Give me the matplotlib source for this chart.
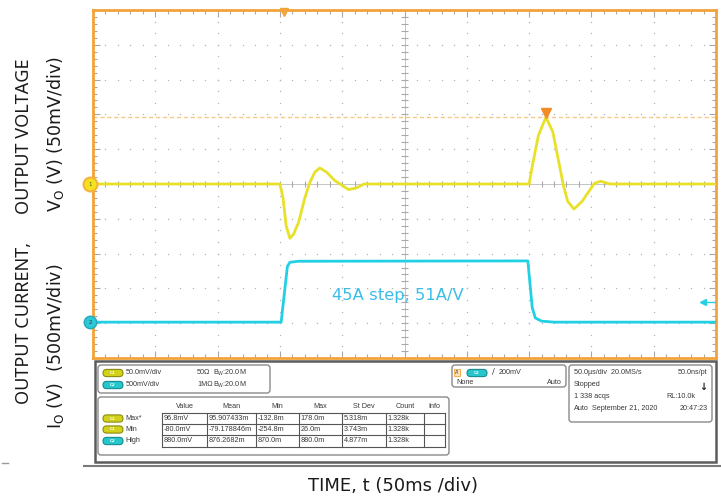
import numpy as np
import matplotlib
matplotlib.use('Agg')
from matplotlib import pyplot as plt
from matplotlib.patches import FancyBboxPatch, Rectangle

# scope settings
ch1_scale = 50.0      # mV/div
ch2_scale = 500.0     # mV/div
time_scale = 50.0     # us/div
n_xdiv = 10
n_ydiv = 10
ch1_gnd_div = 5.0     # ground marker positions (divisions from bottom)
ch2_gnd_div = 1.03

# CH1 output voltage (mV, relative to ground marker) vs time (us)
vout_t = [0.0, 150.0, 152.5, 155.0, 158.0, 161.0, 165.0, 170.0, 174.0, 178.0, 182.0,
          187.5, 194.0, 200.0, 205.0, 211.0, 217.5, 350.0, 352.5, 357.5, 363.5,
          369.0, 374.0, 377.5, 381.0, 386.0, 392.5, 399.0, 402.5, 407.5, 415.0, 500.0]
vout_mv = [0.0, 0.0, -20.0, -60.0, -78.0, -72.0, -55.0, -20.0, 2.0, 17.0, 23.0,
           17.0, 5.0, -2.0, -8.0, -6.0, 0.0, 0.0, 25.0, 70.0, 96.0,
           75.0, 30.0, -2.0, -25.0, -36.0, -25.0, -8.0, 1.0, 4.0, 0.0, 0.0]

# CH2 current probe output (mV) vs time (us)
iout_t = [0.0, 151.0, 153.5, 156.0, 158.0, 165.0, 349.0, 352.5, 355.0, 360.0, 370.0, 500.0]
iout_mv = [0.0, 0.0, 400.0, 800.0, 860.0, 875.0, 880.0, 210.0, 60.0, 15.0, 0.0, 0.0]

trig_t = 153.0
trig_level_mv = 290.0
cursor_mv = 96.8
peak_t = 363.5

# readout panel
ch_settings = [("C1", "50.0mV/div", "50\u03a9"), ("C2", "500mV/div", "1M\u03a9")]
meas_cols = ["Value", "Mean", "Min", "Max", "St Dev", "Count", "Info"]
meas_names = ["Max*", "Min", "High"]
meas_ch = ["C1", "C1", "C2"]
meas_rows = [
    ["96.8mV", "95.907433m", "-132.8m", "178.0m", "5.318m", "1.328k", ""],
    ["-80.0mV", "-79.178846m", "-254.8m", "26.0m", "3.743m", "1.328k", ""],
    ["880.0mV", "876.2682m", "870.0m", "880.0m", "4.877m", "1.328k", ""],
]

YEL = '#e9e02a'
CYAN = '#22d0e4'
ORANGE = '#f2a43a'
GRID = '#b4b4b4'

W, H = 721, 500
L, R, T, B = 93, 716, 10, 358

fig = plt.figure(figsize=(W / 100, H / 100), dpi=100)
fig.patch.set_facecolor('white')

# panel / label layer in pixel coordinates
pan = fig.add_axes([0, 0, 1, 1])
pan.set_xlim(0, W)
pan.set_ylim(H, 0)
pan.axis('off')

# graticule
ax = fig.add_axes([L / W, 1 - B / H, (R - L) / W, (B - T) / H])
ax.set_xlim(0, n_xdiv * time_scale)
ax.set_ylim(-ch1_gnd_div * ch1_scale, (n_ydiv - ch1_gnd_div) * ch1_scale)
ax.set_facecolor('white')
ax2 = ax.twinx()
ax2.set_ylim(-ch2_gnd_div * ch2_scale, (n_ydiv - ch2_gnd_div) * ch2_scale)
ax2.set_yticks([])
for s in ax2.spines.values():
    s.set_visible(False)

for s in ax.spines.values():
    s.set_color(ORANGE)
    s.set_linewidth(2)

y0, y1 = ax.get_ylim()
ax.set_xticks(np.arange(0, 501, time_scale))
ax.set_xticks(np.arange(0, 501, time_scale / 5), minor=True)
ax.set_yticks(np.arange(y0, y1 + 1, ch1_scale))
ax.set_yticks(np.arange(y0, y1 + 1, ch1_scale / 5), minor=True)
ax.set_xticklabels([])
ax.set_yticklabels([])
ax.tick_params(which='both', direction='in', color='#a8a8a8', width=0.8,
               left=True, right=True, top=True, bottom=True)
ax.tick_params(which='major', length=5)
ax.tick_params(which='minor', length=3)

# dotted grid
for k in range(1, n_xdiv):
    if k == n_xdiv // 2:
        continue
    ys = np.arange(y0, y1, ch1_scale / 3)
    ax.plot(np.full_like(ys, k * time_scale), ys, ls='none', marker='s', ms=0.9,
            color=GRID, mew=0)
for k in range(1, n_ydiv):
    if k == n_ydiv // 2:
        continue
    xs = np.arange(0, n_xdiv * time_scale, time_scale / 5)
    ax.plot(xs, np.full_like(xs, y0 + k * ch1_scale), ls='none', marker='s', ms=0.9,
            color=GRID, mew=0)

# centre cross with ticks
xc = n_xdiv / 2 * time_scale
yc = y0 + n_ydiv / 2 * ch1_scale
ax.axhline(yc, color='#c4c4c4', lw=0.7, zorder=1)
ax.axvline(xc, color='#c4c4c4', lw=0.7, zorder=1)
xs = np.arange(0, n_xdiv * time_scale + 1, time_scale / 5)
ax.vlines(xs, yc - 4.5, yc + 4.5, color='#a8a8a8', lw=0.8, zorder=1)
ys = np.arange(y0, y1 + 1, ch1_scale / 5)
ax.hlines(ys, xc - 2.5, xc + 2.5, color='#a8a8a8', lw=0.8, zorder=1)

# cursor at the measured peak
ax.axhline(cursor_mv, color='#f8c888', lw=1.0, ls=(0, (3, 2)), zorder=2)

# traces
ax2.plot(iout_t, iout_mv, color=CYAN, lw=2.0, zorder=5)
ax.plot(vout_t, vout_mv, color=YEL, lw=2.0, zorder=6)
ax.set_zorder(2)
ax2.set_zorder(3)

ax2.text(192, 390, "45A step, 51A/V", color='#3cbde8', fontsize=11.8,
         family='DejaVu Sans', ha='left', va='center')

# markers
ax.plot([trig_t], [y1 - 3.5], marker='v', color=ORANGE, ms=6, clip_on=False, zorder=7)
ax.plot([peak_t], [cursor_mv + 5], marker='v', color='#f28c28', ms=7, clip_on=False, zorder=7)
xm = -3 / (R - L) * n_xdiv * time_scale
ax.plot([xm], [0], marker='o', ms=10, mfc='#f5e21e', mec='#f6b23c', mew=1.5,
        clip_on=False, zorder=8)
ax.text(xm, 0, "1", fontsize=4, ha='center', va='center', color='#555', zorder=9, clip_on=False)
ax2.plot([xm], [0], marker='o', ms=9, mfc='#2cc8d8', mec='#24a8b8', mew=1,
         clip_on=False, zorder=8)
ax2.text(xm, 0, "2", fontsize=4, ha='center', va='center', color='#333', zorder=9, clip_on=False)
ax2.plot([489.6, 500], [trig_level_mv, trig_level_mv], color=CYAN, lw=1, zorder=6)
ax2.plot([489.6], [trig_level_mv], marker='<', color=CYAN, ms=4, zorder=7)

# ---- readout panel ----
TXT = '#3a3a3a'
FS = 5.2
FONT = 'Liberation Sans'


def pill(cx, cy, ch):
    fc, ec = ('#d2d21a', '#8c8c10') if ch == "C1" else ('#26c6cc', '#168c92')
    pan.add_patch(FancyBboxPatch((cx - 10, cy - 3.6), 20, 7.2,
                                 boxstyle='round,pad=0,rounding_size=3.6',
                                 fc=fc, ec=ec, lw=0.8))
    pan.text(cx, cy, ch, fontsize=3.2, color='white', ha='center', va='center',
             family=FONT, weight='bold')


def box(x, y, w, h):
    pan.add_patch(FancyBboxPatch((x, y), w, h, boxstyle='round,pad=0,rounding_size=3',
                                 fc='white', ec='#8a8a8a', lw=1.0))


pan.add_patch(Rectangle((94.5, 360.5), 621, 101.5, fc='white', ec='#5c5c5c', lw=1.8))
pan.plot([84, W], [466, 466], color='#7a7a7a', lw=1.5)
pan.plot([2, 8], [463, 463], color='#999999', lw=1)

box(98, 365, 172, 28)
for i, (ch, vdiv, imp) in enumerate(ch_settings):
    yy = 373 + 12 * i
    pill(113, yy, ch)
    pan.text(126, yy, vdiv, fontsize=FS, color=TXT, ha='left', va='center', family=FONT)
    pan.text(197, yy, imp, fontsize=FS, color=TXT, ha='left', va='center', family=FONT)
    pan.text(213, yy, r"$\mathregular{B_W}$:20.0M", fontsize=FS, color=TXT,
             ha='left', va='center', family=FONT)

box(98, 397, 351, 58)
col_x = [162, 207, 256, 299, 342, 386, 424, 445]
row_y = [413, 424, 435, 447]
for j, c in enumerate(meas_cols):
    pan.text((col_x[j] + col_x[j + 1]) / 2, 406, c, fontsize=FS, color=TXT,
             ha='center', va='center', family=FONT)
for x in col_x:
    pan.plot([x, x], [row_y[0], row_y[-1]], color='#555555', lw=0.8)
for y in row_y:
    pan.plot([col_x[0], col_x[-1]], [y, y], color='#555555', lw=0.8)
for i, name in enumerate(meas_names):
    yy = (row_y[i] + row_y[i + 1]) / 2
    pill(113, yy, meas_ch[i])
    pan.text(125, yy, name, fontsize=FS, color=TXT, ha='left', va='center', family=FONT)
    for j, v in enumerate(meas_rows[i]):
        pan.text(col_x[j] + 1.5, yy, v, fontsize=FS, color=TXT, ha='left',
                 va='center', family=FONT)

# trigger readout
box(452, 365, 114, 22)
pan.add_patch(Rectangle((454, 369), 6, 7, fc='#fbe3c0', ec='#f2a43a', lw=0.6))
pan.text(457, 372.5, "A'", fontsize=3.5, color=TXT, ha='center', va='center', family=FONT)
pill(477, 373, "C2")
pan.text(493, 372, "\u2215", fontsize=6, color=TXT, ha='center', va='center', family='DejaVu Sans')
pan.text(499, 372, "200mV", fontsize=FS, color=TXT, ha='left', va='center', family=FONT)
pan.text(456, 382, "None", fontsize=FS, color=TXT, ha='left', va='center', family=FONT)
pan.text(562, 382, "Auto", fontsize=FS, color=TXT, ha='right', va='center', family=FONT)

# timebase readout
box(569, 365, 143, 57)
pan.text(574, 373, "50.0\u00b5s/div  20.0MS/s", fontsize=FS, color=TXT, ha='left', va='center', family=FONT)
pan.text(707, 373, "50.0ns/pt", fontsize=FS, color=TXT, ha='right', va='center', family=FONT)
pan.text(574, 385, "Stopped", fontsize=FS, color=TXT, ha='left', va='center', family=FONT)
pan.text(703, 387, "\u2193", fontsize=7, color='#222', ha='center', va='center',
         family='DejaVu Sans', weight='bold')
pan.text(574, 397, "1 338 acqs", fontsize=FS, color=TXT, ha='left', va='center', family=FONT)
pan.text(695, 397, "RL:10.0k", fontsize=FS, color=TXT, ha='right', va='center', family=FONT)
pan.text(574, 409, "Auto", fontsize=FS, color=TXT, ha='left', va='center', family=FONT)
pan.text(592, 409, "September 21, 2020", fontsize=FS, color=TXT, ha='left', va='center', family=FONT)
pan.text(708, 409, "20:47:23", fontsize=FS, color=TXT, ha='right', va='center', family=FONT)

# axis captions
CAPS = dict(fontsize=13, color='#1a1a1a', family='Noto Sans', rotation=90,
            ha='center', va='center')
LOW = dict(fontsize=12.5, color='#1a1a1a', family='DejaVu Sans', rotation=90,
           ha='center', va='center')
pan.text(24, 136, "OUTPUT VOLTAGE", **CAPS)
pan.text(55, 134, r"V$_\mathregular{O}$ (V) (50mV/div)", **LOW)
pan.text(24, 323, "OUTPUT CURRENT,", **CAPS)
pan.text(55, 346, r"I$_\mathregular{O}$ (V)  (500mV/div)", **LOW)
pan.text(393, 486, "TIME, t (50ms /div)", fontsize=13, color='#1a1a1a',
         family='DejaVu Sans', ha='center', va='center')

fig.savefig('out.png', dpi=100)
